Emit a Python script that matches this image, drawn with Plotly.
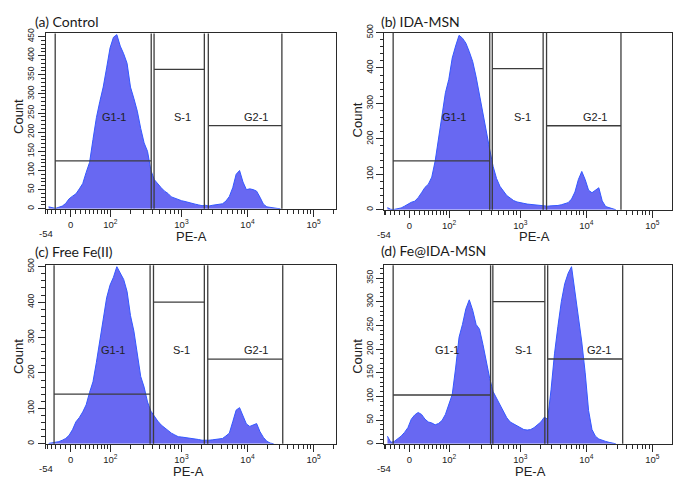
import numpy as np
import plotly.graph_objects as go

# ---------------------------------------------------------------------------
# Cell-cycle histograms (PE-A), counts per display channel bin (12 channels/bin)
# ---------------------------------------------------------------------------
BIN_WIDTH = 12

CONTROL_COUNTS = [5, 2, 1, 4, 7, 14, 26, 33, 39, 52, 66, 95, 121, 181, 238, 280, 318, 368,
                  420, 448, 455, 425, 405, 380, 318, 288, 255, 210, 172, 150, 100, 76, 64,
                  55, 46, 40, 31, 27, 23, 21, 19, 16, 14, 12, 10, 8, 9, 7, 9, 11, 12, 13, 20,
                  32, 55, 90, 100, 70, 50, 52, 50, 46, 30, 12, 5, 3, 3, 1, 0]
IDA_MSN_COUNTS = [6, 1, 1, 3, 5, 10, 16, 21, 24, 34, 48, 63, 72, 92, 138, 200, 272, 330,
                  368, 428, 462, 492, 484, 470, 446, 418, 375, 322, 275, 220, 170, 122, 88,
                  66, 52, 40, 33, 26, 22, 19, 18, 16, 15, 14, 12, 10, 9, 10, 11, 11, 12, 14,
                  16, 20, 30, 50, 85, 108, 85, 55, 48, 55, 62, 25, 9, 6, 3, 0]
FREE_FE_COUNTS = [1, 2, 3, 6, 10, 15, 24, 40, 62, 74, 90, 110, 145, 175, 230, 290, 352, 412,
                  448, 470, 500, 482, 464, 430, 362, 318, 250, 190, 160, 118, 92, 76, 64, 53,
                  45, 38, 30, 25, 20, 19, 18, 17, 16, 14, 12, 10, 9, 10, 11, 12, 13, 15, 22,
                  30, 62, 95, 102, 78, 56, 49, 52, 57, 34, 18, 7, 2, 0]
FE_IDA_MSN_COUNTS = [16, 3, 5, 10, 16, 24, 34, 52, 61, 66, 62, 52, 46, 44, 40, 43, 49, 62,
                     82, 104, 160, 225, 252, 285, 304, 282, 252, 242, 210, 172, 138, 110, 96,
                     80, 66, 55, 46, 42, 38, 33, 30, 29, 30, 34, 40, 46, 56, 52, 115, 190, 248,
                     300, 338, 360, 374, 322, 275, 215, 150, 70, 30, 16, 10, 7, 5, 3, 2, 0]

PANEL_TITLES = ["(a) Control", "(b) IDA-MSN", "(c) Free Fe(II)", "(d) Fe@IDA-MSN"]
GATE_NAMES = ["G1-1", "S-1", "G2-1"]

# gate limits in display channels and the count level of each gate bar
GATE_LIMITS = [
    [(29, 367), (377, 554), (568, 827)],
    [(26, 366), (375, 554), (566, 828)],
    [(25, 363), (375, 554), (566, 830)],
    [(26, 369), (377, 560), (570, 834)],
]
GATE_LEVELS = [
    [125, 364, 217],
    [138, 398, 237],
    [140, 400, 239],
    [103, 300, 179],
]
GATE_LABEL_X = [
    [237, 478, 736],
    [240, 480, 736],
    [232, 472, 736],
    [217, 486, 750],
]

Y_MAX = [458, 500, 504, 377]
Y_MAJOR = [50, 100, 100, 50]
Y_MINOR = [10, 20, 20, 10]

# PE-A axis (the -54 end label is placed a little lower than the rest)
AXIS_MIN_VALUE = -54
AXIS_MIN_LABEL = "-54"
TICK_VALUES = [0, 1e2, 1e3, 1e4, 1e5]
TICK_LABELS = ["0", "10<sup>2</sup>", "10<sup>3</sup>", "10<sup>4</sup>", "10<sup>5</sup>"]
MINOR_VALUES = ([-54, -50, -40, -30, -20, -10] + list(range(10, 100, 10)) +
                list(range(200, 1000, 100)) + list(range(2000, 10000, 1000)) +
                list(range(20000, 100000, 10000)) + [200000])


# biexponential-style display transform: arcsinh near zero, log10 above 1000
LIN_ZERO, LIN_SCALE, LIN_WIDTH, DECADE = 83.0, 112.9, 63.0, 232.5
T1000 = LIN_ZERO + LIN_SCALE * np.arcsinh(1000 / LIN_WIDTH)


def to_display(v):
    v = np.asarray(v, dtype=float)
    lin = LIN_ZERO + LIN_SCALE * np.arcsinh(v / LIN_WIDTH)
    log = T1000 + DECADE * (np.log10(np.maximum(v, 1e3)) - 3)
    return np.where(v < 1000, lin, log)


W, H = 673, 481
CH_PER_PX = 3.515
X_START = float(to_display(AXIS_MIN_VALUE))

FILL = "rgb(104,104,242)"
EDGE = "rgb(52,88,255)"
LINE = "#2a2a2a"
GATE = "#3c3c3c"
TICK_FONT = dict(family="Liberation Sans, Arial", size=9.5, color="#222")

# panel frames in pixels: (left, right, top, bottom)
FRAMES = [(45.7, 337, 25, 204), (385, 673, 24, 205),
          (45.7, 337, 261.7, 444), (385, 673, 261.7, 444)]
TITLE_POS = [(33, 13), (380, 13), (33, 247.5), (380, 247)]
COUNT_POS = [(18.3, 110), (358.3, 113), (18.3, 355), (357.7, 355)]
PEA_POS = [(191.7, 232), (535, 232), (188.3, 472), (531.7, 472)]

all_counts = [CONTROL_COUNTS, IDA_MSN_COUNTS, FREE_FE_COUNTS, FE_IDA_MSN_COUNTS]

fig = go.Figure()
layout = dict(width=W, height=H, margin=dict(l=0, r=0, t=0, b=0),
              paper_bgcolor="white", plot_bgcolor="white", showlegend=False)
shapes, annotations = [], []

major_pos = to_display(TICK_VALUES)
minor_pos = to_display(MINOR_VALUES)

for k in range(4):
    sfx = "" if k == 0 else str(k + 1)
    xname, yname = "x" + sfx, "y" + sfx
    left, right, top, bottom = FRAMES[k]
    x_end = X_START + (right - left) * CH_PER_PX

    counts = all_counts[k]
    chan = BIN_WIDTH * np.arange(len(counts)) + BIN_WIDTH / 2
    fig.add_trace(go.Scatter(x=chan, y=counts, mode="lines",
                             line=dict(color=EDGE, width=1),
                             fill="tozeroy", fillcolor=FILL,
                             xaxis=xname, yaxis=yname, hoverinfo="skip"))

    layout["xaxis" + sfx] = dict(
        domain=[left / W, right / W], range=[X_START, x_end], anchor=yname,
        showgrid=False, zeroline=False, showline=True, linecolor=LINE, linewidth=1,
        mirror=True, ticks="outside", ticklen=7, tickcolor=LINE, tickwidth=1,
        tickmode="array", tickvals=list(major_pos),
        ticktext=TICK_LABELS, tickfont=TICK_FONT,
        minor=dict(tickmode="array", tickvals=list(minor_pos), ticks="outside",
                   ticklen=4, tickcolor=LINE, tickwidth=1),
    )
    layout["yaxis" + sfx] = dict(
        domain=[1 - bottom / H, 1 - top / H], range=[0, Y_MAX[k]], anchor=xname,
        showgrid=False, zeroline=False, showline=True, linecolor=LINE, linewidth=1,
        mirror=True, ticks="outside", ticklen=7, tickcolor=LINE, tickwidth=1,
        tickmode="linear", tick0=0, dtick=Y_MAJOR[k], tickangle=-90,
        tickfont=dict(family="Liberation Sans, Arial", size=8.5, color="#222"),
        minor=dict(dtick=Y_MINOR[k], ticks="outside", ticklen=3.5,
                   tickcolor=LINE, tickwidth=1),
    )

    # gates: full-height limits plus the bar at the gate's count level
    for (lo, hi), lvl, lx, name in zip(GATE_LIMITS[k], GATE_LEVELS[k],
                                       GATE_LABEL_X[k], GATE_NAMES):
        for xv in (lo, hi):
            shapes.append(dict(type="line", xref=xname, yref=yname + " domain",
                               x0=xv, x1=xv, y0=0, y1=1,
                               line=dict(color=GATE, width=1.3)))
        shapes.append(dict(type="line", xref=xname, yref=yname,
                           x0=lo, x1=hi, y0=lvl, y1=lvl,
                           line=dict(color=GATE, width=1.3)))
        annotations.append(dict(text=name, x=lx, y=0.525, xref=xname,
                                yref=yname + " domain", showarrow=False,
                                font=dict(family="Liberation Sans, Arial", size=11,
                                          color="#222"),
                                xanchor="center", yanchor="middle"))

    annotations.append(dict(text=AXIS_MIN_LABEL, x=X_START, xref=xname,
                            y=1 - (bottom + 25) / H, yref="paper", showarrow=False,
                            font=TICK_FONT, xanchor="center", yanchor="middle"))

    tx, ty = TITLE_POS[k]
    annotations.append(dict(text=PANEL_TITLES[k], x=tx / W, y=1 - ty / H,
                            xref="paper", yref="paper", showarrow=False,
                            xanchor="left", yanchor="middle",
                            font=dict(family="Lato, Open Sans", size=14, color="#1a1a1a")))
    cx, cy = COUNT_POS[k]
    annotations.append(dict(text="Count", x=cx / W, y=1 - cy / H, xref="paper",
                            yref="paper", showarrow=False, textangle=-90,
                            xanchor="center", yanchor="middle",
                            font=dict(family="Liberation Sans, Arial", size=13,
                                      color="#222")))
    px_, py_ = PEA_POS[k]
    annotations.append(dict(text="PE-A", x=px_ / W, y=1 - py_ / H, xref="paper",
                            yref="paper", showarrow=False,
                            xanchor="center", yanchor="middle",
                            font=dict(family="Liberation Sans, Arial", size=13,
                                      color="#222")))

layout["shapes"] = shapes
layout["annotations"] = annotations
fig.update_layout(**layout)
fig.write_html("out.html")
